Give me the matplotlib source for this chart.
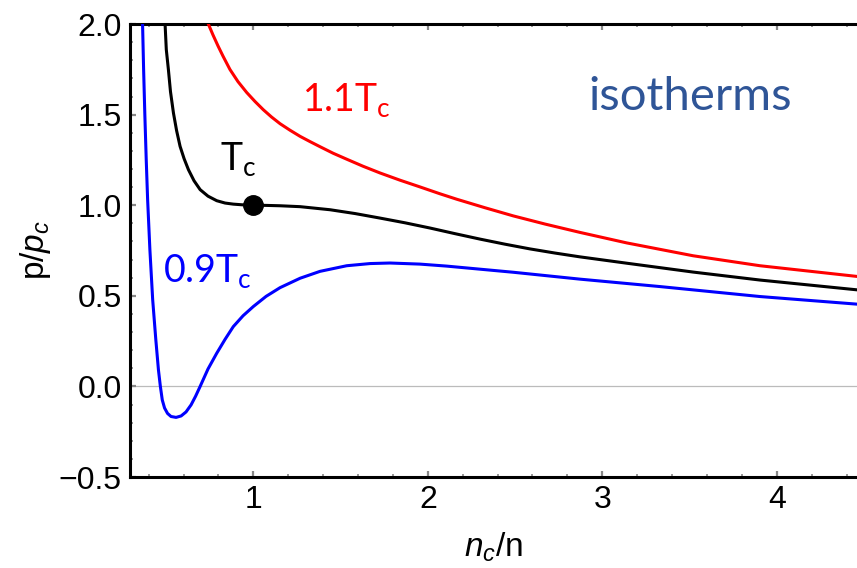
import matplotlib
matplotlib.use("Agg")
import matplotlib.pyplot as plt
from matplotlib.ticker import MultipleLocator

plt.rcParams['font.family'] = ['Liberation Sans', 'DejaVu Sans']
plt.rcParams['mathtext.fontset'] = 'custom'
plt.rcParams['mathtext.it'] = 'Liberation Sans:italic'
plt.rcParams['mathtext.rm'] = 'Liberation Sans'

# values (x = n_c/n, p = p/p_c)
x_09 = [0.365, 0.371, 0.378, 0.386, 0.394, 0.407, 0.423, 0.441, 0.456, 0.467,
        0.478, 0.491, 0.508, 0.528, 0.557, 0.586, 0.614, 0.643, 0.669, 0.695,
        0.740, 0.790, 0.838, 0.885, 0.941, 1.0, 1.073, 1.153, 1.268, 1.382,
        1.535, 1.669, 1.783, 1.955, 2.108, 2.490, 2.872, 3.331, 3.904, 4.460]
p_09 = [2.0, 1.749, 1.500, 1.251, 1.030, 0.754, 0.478, 0.257, 0.091, 0.0,
        -0.075, -0.119, -0.149, -0.166, -0.171, -0.163, -0.141, -0.102, -0.054, 0.0,
        0.096, 0.183, 0.260, 0.330, 0.390, 0.441, 0.497, 0.545, 0.597, 0.635,
        0.666, 0.678, 0.681, 0.675, 0.664, 0.630, 0.592, 0.551, 0.496, 0.454]

x_10 = [0.494, 0.501, 0.513, 0.525, 0.542, 0.560, 0.580, 0.603, 0.628, 0.660,
        0.695, 0.740, 0.790, 0.838, 0.885, 0.941, 1.0, 1.073, 1.153, 1.268,
        1.440, 1.583, 1.726, 1.869, 2.013, 2.156, 2.299, 2.442, 2.585, 2.729,
        2.872, 3.140, 3.521, 3.904, 4.460]
p_10 = [2.0, 1.859, 1.749, 1.627, 1.509, 1.412, 1.325, 1.257, 1.196, 1.135,
        1.086, 1.050, 1.025, 1.012, 1.006, 1.002, 1.0, 0.999, 0.997, 0.992,
        0.975, 0.954, 0.929, 0.903, 0.874, 0.843, 0.813, 0.785, 0.759, 0.736,
        0.715, 0.680, 0.631, 0.587, 0.533]

x_11 = [0.742, 0.769, 0.798, 0.826, 0.866, 0.912, 0.962, 1.010, 1.057, 1.104,
        1.153, 1.210, 1.268, 1.325, 1.382, 1.457, 1.535, 1.629, 1.726, 1.841,
        1.955, 2.070, 2.166, 2.328, 2.490, 2.672, 2.872, 3.140, 3.521, 3.904, 4.460]
p_11 = [2.0, 1.939, 1.878, 1.823, 1.749, 1.682, 1.622, 1.572, 1.527, 1.487,
        1.450, 1.414, 1.380, 1.351, 1.323, 1.287, 1.254, 1.215, 1.178, 1.138,
        1.101, 1.063, 1.033, 0.986, 0.941, 0.896, 0.850, 0.792, 0.721, 0.666, 0.607]

critical = (1.0, 1.0)

fig = plt.figure(figsize=(8.57, 5.68), dpi=100)
ax = fig.add_axes([0.1517, 0.1602, 0.8483, 0.7975])

ax.axhline(0, color='#bbbbbb', lw=0.9, zorder=1)
ax.plot(x_09, p_09, color='#0000ff', lw=2.2, zorder=3, solid_joinstyle='round')
ax.plot(x_10, p_10, color='black', lw=2.2, zorder=3, solid_joinstyle='round')
ax.plot(x_11, p_11, color='#ff0000', lw=2.2, zorder=3, solid_joinstyle='round')
ax.plot(*critical, 'o', color='black', ms=14, zorder=4)

ax.set_xlim(0.293, 4.46)
ax.set_ylim(-0.5, 2.0)

ax.xaxis.set_major_locator(MultipleLocator(1))
ax.xaxis.set_minor_locator(MultipleLocator(0.2))
ax.yaxis.set_major_locator(MultipleLocator(0.5))
ax.yaxis.set_minor_locator(MultipleLocator(0.1))
ax.yaxis.set_major_formatter(lambda v, pos: f"{v:.1f}".replace('-', '\u2212'))

ax.tick_params(which='both', direction='in', color='#888888', top=True,
               right=False, labelsize=23)
ax.tick_params(which='major', length=4, width=1.6, pad=6)
ax.tick_params(which='minor', length=2.5, width=1.2)

for s in ['left', 'bottom', 'top']:
    ax.spines[s].set_linewidth(2.2)
ax.spines['right'].set_visible(False)

ax.set_xlabel(r'$n_c$/n', fontsize=24, labelpad=11)
ax.set_ylabel(r'p/$p_c$', fontsize=24, labelpad=4)

lab = dict(family=['Lato', 'DejaVu Sans'], fontsize=27)
ax.text(1.279, 1.517, r'1.1T$_\mathregular{c}$', color='#ff0000', **lab)
ax.text(0.809, 1.190, r'T$_\mathregular{c}$', color='black', **lab)
ax.text(0.483, 0.572, r'0.9T$_\mathregular{c}$', color='#0000ff', **lab)
ax.text(2.923, 1.528, 'isotherms', color='#2f5597',
        family=['Lato', 'DejaVu Sans'], fontsize=34)

fig.savefig('out.png', dpi=100)
